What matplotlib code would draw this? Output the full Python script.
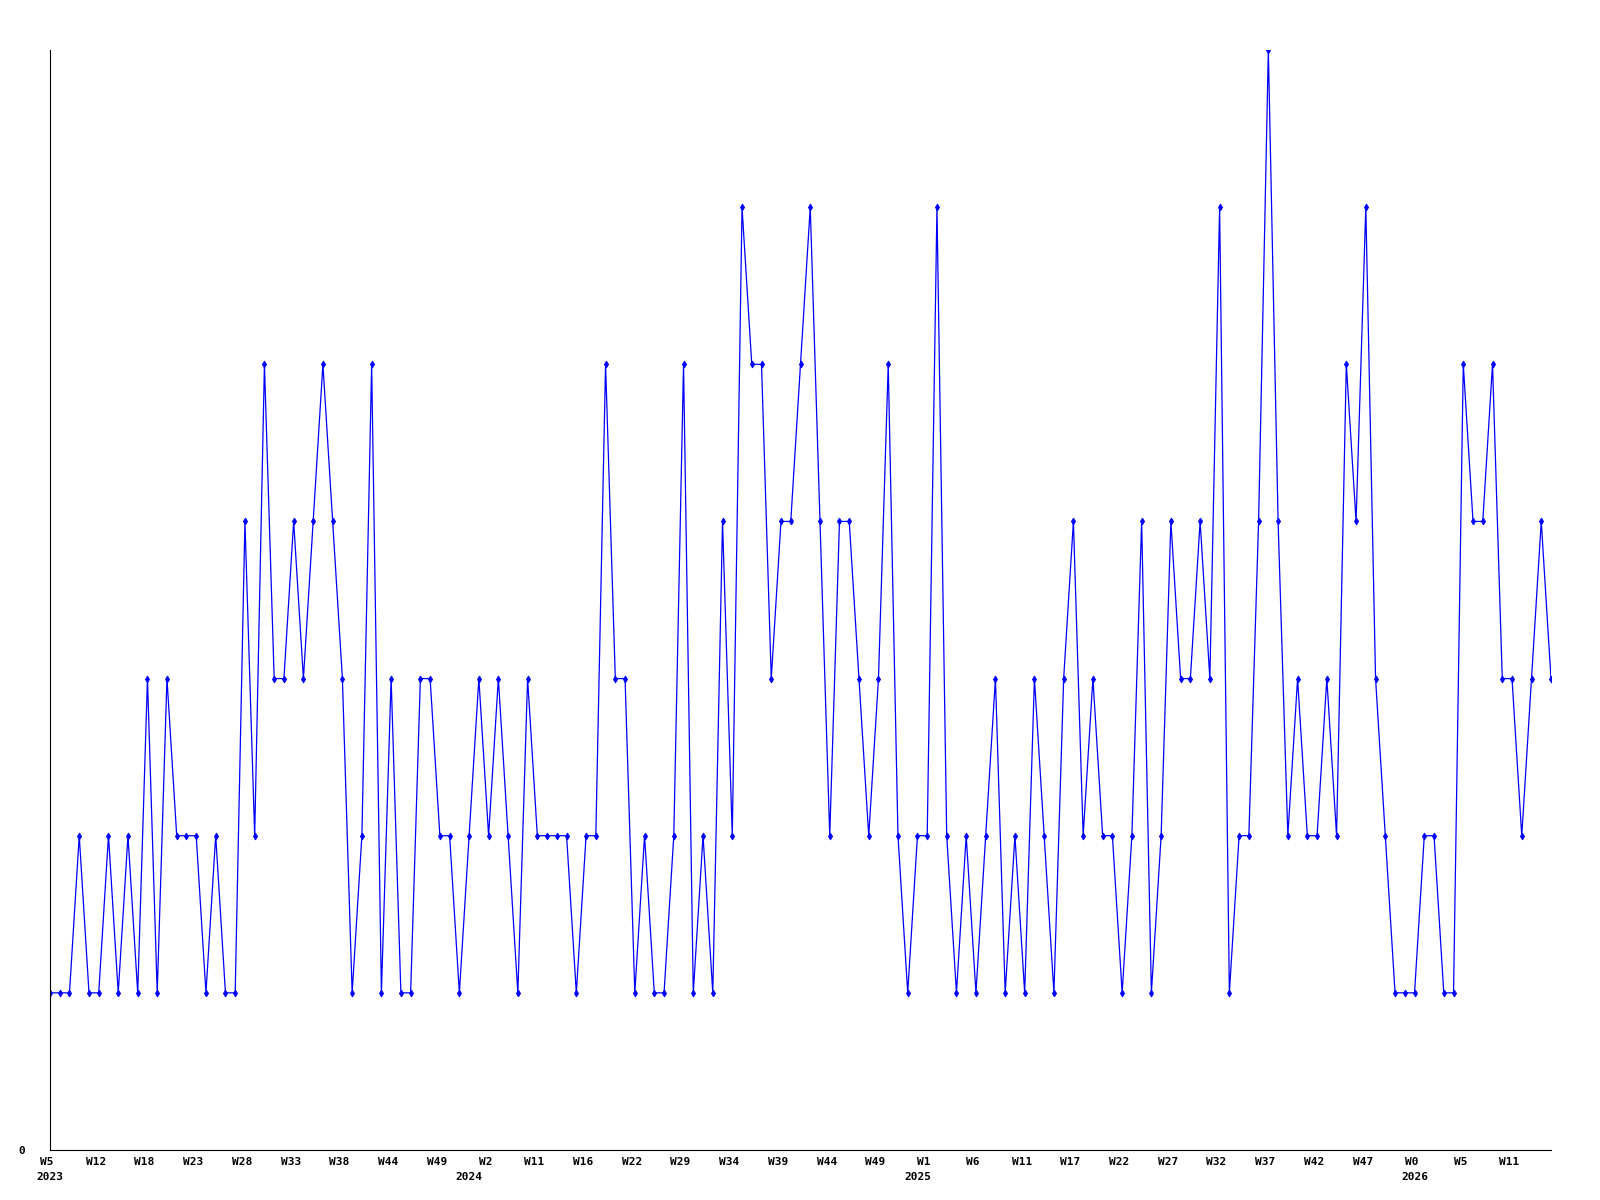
import numpy as np
import matplotlib
matplotlib.use("Agg")
import matplotlib.pyplot as plt
import matplotlib.transforms as mtransforms

# weekly counts
counts = [1, 1, 1, 2, 1, 1, 2, 1, 2, 1,
          3, 1, 3, 2, 2, 2, 1, 2, 1, 1,
          4, 2, 5, 3, 3, 4, 3, 4, 5, 4,
          3, 1, 2, 5, 1, 3, 1, 1, 3, 3,
          2, 2, 1, 2, 3, 2, 3, 2, 1, 3,
          2, 2, 2, 2, 1, 2, 2, 5, 3, 3,
          1, 2, 1, 1, 2, 5, 1, 2, 1, 4,
          2, 6, 5, 5, 3, 4, 4, 5, 6, 4,
          2, 4, 4, 3, 2, 3, 5, 2, 1, 2,
          2, 6, 2, 1, 2, 1, 2, 3, 1, 2,
          1, 3, 2, 1, 3, 4, 2, 3, 2, 2,
          1, 2, 4, 1, 2, 4, 3, 3, 4, 3,
          6, 1, 2, 2, 4, 7, 4, 2, 3, 2,
          2, 3, 2, 5, 4, 6, 3, 2, 1, 1,
          1, 2, 2, 1, 1, 5, 4, 4, 5, 3,
          3, 2, 3, 4, 3]

week_labels = ["W5", "W12", "W18", "W23", "W28", "W33", "W38", "W44", "W49", "W2",
               "W11", "W16", "W22", "W29", "W34", "W39", "W44", "W49", "W1", "W6",
               "W11", "W17", "W22", "W27", "W32", "W37", "W42", "W47", "W0", "W5",
               "W11"]
years = ["2023", "2024", "2025", "2026"]
year_idx = [0, 43, 89, 140]

x = np.arange(len(counts))
tick_idx = np.arange(0, len(week_labels) * 5, 5)

fig = plt.figure(figsize=(16, 12), dpi=100)
ax = fig.add_axes([50 / 1600, 50 / 1200, 1501 / 1600, 1100 / 1200])

ax.plot(x, counts, color="#0000ff", linewidth=0.9, marker="d",
        markersize=3.5, markeredgewidth=0.6, markerfacecolor="#0000ff",
        markeredgecolor="#0000ff")

ax.set_xlim(0, len(counts) - 1)
ax.set_ylim(0, max(counts))

ax.spines["top"].set_visible(False)
ax.spines["right"].set_visible(False)
for s in ("left", "bottom"):
    ax.spines[s].set_linewidth(0.8)
    ax.spines[s].set_color("black")

font = dict(family="DejaVu Sans Mono", weight="bold", size=8)

ax.set_yticks([0])
ax.set_yticklabels(["0"], **font)
ax.tick_params(axis="y", length=0, pad=18)

ax.set_xticks(tick_idx)
ax.set_xticklabels(week_labels, **font)
ax.tick_params(axis="x", length=0, pad=5)

# nudge week labels a little to the left, like the original
shift = mtransforms.ScaledTranslation(-3 / 100, 0, fig.dpi_scale_trans)
for lab in ax.get_xticklabels():
    lab.set_transform(lab.get_transform() + shift)

for yr, xi in zip(years, year_idx):
    ax.annotate(yr, xy=(xi, 0), xycoords=("data", "axes fraction"),
                xytext=(0, -19.5), textcoords="offset points",
                ha="center", va="center", **font)

fig.savefig("out.png", dpi=100)
